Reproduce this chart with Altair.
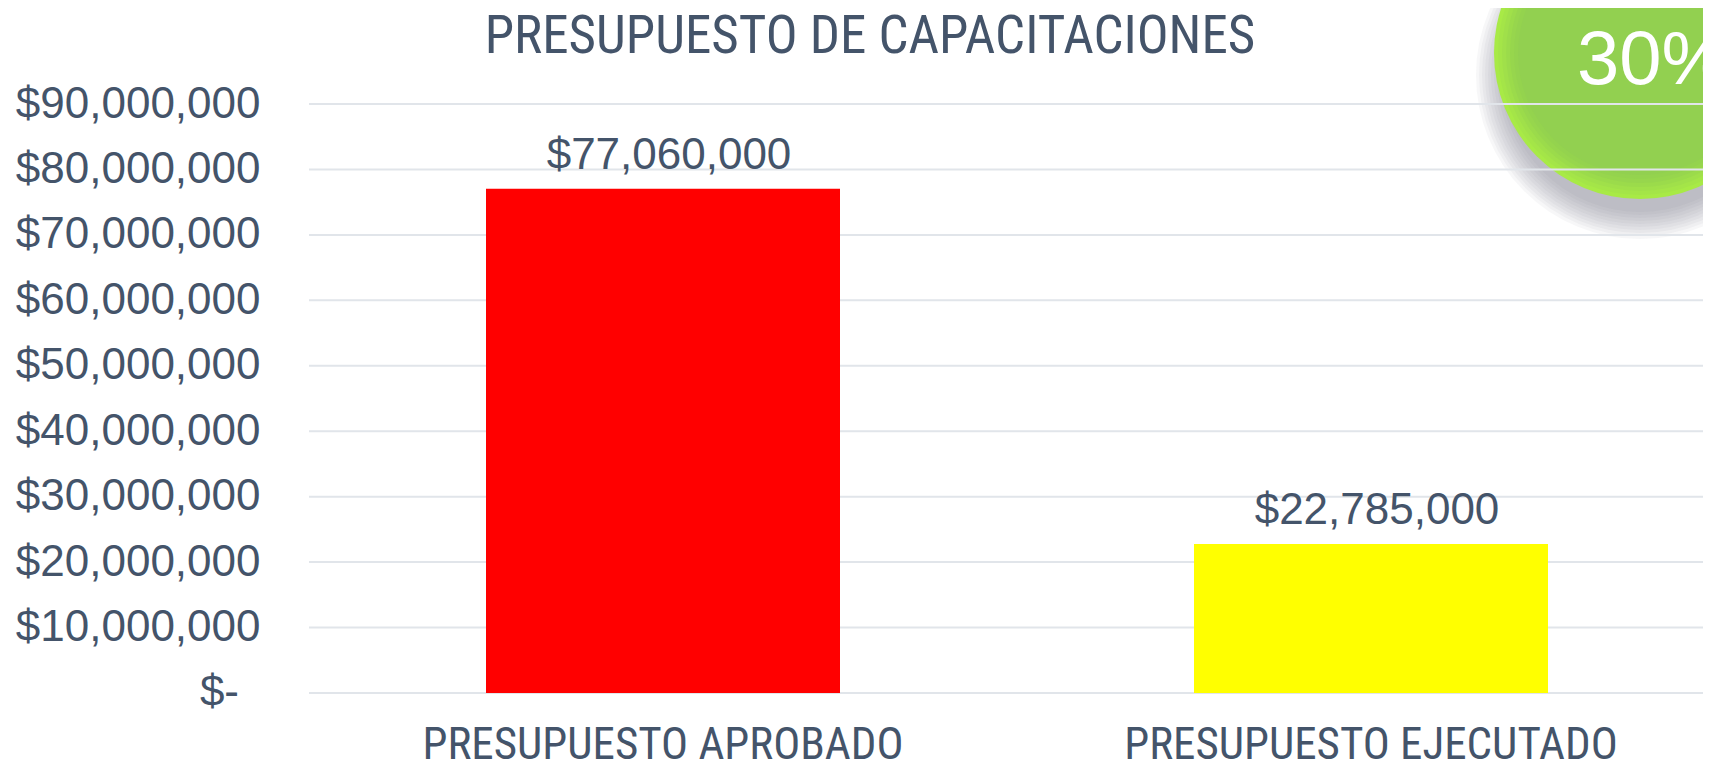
import altair as alt
import pandas as pd

categories = ["PRESUPUESTO APROBADO", "PRESUPUESTO EJECUTADO"]
values = [77060000, 22785000]
bar_colors = ["#FF0000", "#FFFF00"]
ticks = [0, 10000000, 20000000, 30000000, 40000000, 50000000, 60000000, 70000000, 80000000, 90000000]
zero_label = "$-"
title_text = "PRESUPUESTO DE CAPACITACIONES"
badge_text = "30%"

INK = "#44546A"
GRID = "#E1E5EA"
NARROW = "'Roboto Condensed', 'Liberation Sans'"
W, H = 1394, 589
CX, CY, R = 1331, -51, 146

df = pd.DataFrame({"cat": categories, "val": values})
grid_df = pd.DataFrame({"v": ticks})
zero_df = pd.DataFrame({"v": [0], "t": [zero_label]})
dot = pd.DataFrame({"k": [0]})

y_scale = alt.Scale(domain=[0, 90000000], range=[H, 0], nice=False)
x_scale = alt.Scale(domain=categories, range=[0, 1416], paddingInner=0.5, paddingOuter=0.25)

x_axis = alt.Axis(labelFont=NARROW, labelFontSize=45, labelColor=INK,
                  labelAngle=0, ticks=False, domain=False, labelPadding=29, labelLimit=0,
                  labelOverlap=False, grid=False, title=None)
y_axis = alt.Axis(values=ticks, labelFont="Liberation Sans", labelFontSize=44, labelColor=INK,
                  ticks=False, domain=False, labelPadding=49, labelLimit=0, grid=False,
                  labelOverlap=False, title=None,
                  labelExpr="datum.value === 0 ? '' : format(datum.value, '$,.0f')")
X = alt.X("cat:N", scale=x_scale, sort=categories, axis=x_axis)
Y = alt.Y("val:Q", scale=y_scale, axis=y_axis)


def disc(radius, color, opacity=1.0, dy=0):
    return alt.Chart(dot).mark_circle(color=color, opacity=opacity).encode(
        x=alt.value(CX), y=alt.value(CY + dy),
        size=alt.value(4 * radius * radius),
    )


layers = []
for r in [164, 161, 158, 155, 152, 149, 146, 143, 140, 137]:
    layers.append(disc(r, "#70707A", 0.055, dy=22))
for d, c in [(0, "#A8EA46"), (4, "#A4E548"), (8, "#A0E04A"), (12, "#9BDB4B"), (16, "#97D64D"), (20, "#94D34E"), (24, "#92D050")]:
    layers.append(disc(R - d, c))

rules = alt.Chart(grid_df).mark_rule(color=GRID, strokeWidth=2).encode(
    y=alt.Y("v:Q", scale=y_scale, axis=y_axis),
    x=alt.value(0), x2=alt.value(W),
)

bars = alt.Chart(df).mark_bar().encode(
    x=X, y=Y,
    color=alt.Color("cat:N", scale=alt.Scale(domain=categories, range=bar_colors), legend=None),
)

labels = alt.Chart(df).mark_text(font="Liberation Sans", fontSize=44, color=INK, baseline="alphabetic", dy=-20, dx=6).encode(
    x=X, y=Y,
    text=alt.Text("val:Q", format="$,.0f"),
)

zero_text = alt.Chart(zero_df).mark_text(font="Liberation Sans", fontSize=44, color=INK, align="right", baseline="middle").encode(
    x=alt.value(-70),
    y=alt.Y("v:Q", scale=y_scale, axis=y_axis),
    text="t:N",
)

badge = alt.Chart(dot).mark_text(font="Liberation Sans", fontSize=76, color="#FFFFFF", align="left", baseline="alphabetic").encode(
    x=alt.value(1268), y=alt.value(-20), text=alt.value(badge_text),
)

title = alt.Chart(dot).mark_text(font=NARROW, fontSize=53, color=INK, align="center", baseline="alphabetic").encode(
    x=alt.value(561), y=alt.value(-51), text=alt.value(title_text),
)

chart = alt.layer(*layers, rules, bars, labels, zero_text, badge, title).properties(
    width=W, height=H,
    autosize=alt.AutoSizeParams(type="none"),
    padding={"left": 301, "top": 96, "right": 0, "bottom": 70},
    background="#FFFFFF",
).configure_view(stroke=None)

chart.save("out.html", embed_options={"renderer": "svg", "actions": False})
